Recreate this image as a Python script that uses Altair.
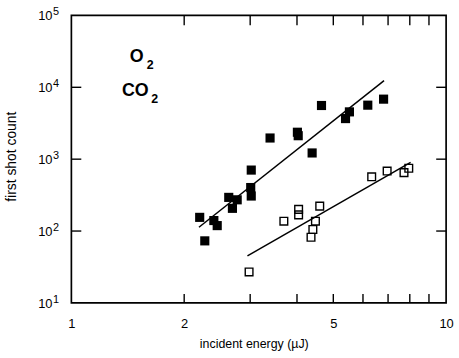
import altair as alt
import pandas as pd

# ---- data ----
filled_x = [2.20, 2.27, 2.40, 2.45, 2.63, 2.69, 2.77, 3.02, 3.01, 3.02, 3.39, 4.01, 4.03, 4.39, 4.65, 5.39, 5.52, 6.18, 6.81]
filled_y = [155, 73, 140, 119, 294, 207, 272, 705, 403, 307, 1970, 2370, 2120, 1220, 5580, 3670, 4550, 5640, 6840]
open_x = [2.98, 3.69, 4.04, 4.04, 4.60, 4.48, 4.41, 4.36, 6.33, 6.96, 7.72, 7.95]
open_y = [27, 137, 200, 168, 222, 137, 105, 82, 568, 683, 650, 748]
fit_filled_x = [2.19, 6.83]
fit_filled_y = [113, 12400]
fit_open_x = [2.95, 8.04]
fit_open_y = [45, 904]

x_label_values = [1, 2, 5, 10]
x_minor_ticks = [2, 3, 4, 5, 6, 7, 8, 9]
y_decades = [10, 100, 1000, 10000, 100000]
y_exponents = ["1", "2", "3", "4", "5"]
y_inner_ticks = [100, 1000, 10000]

W, H = 378, 290
FONT = "Liberation Sans"

xs = alt.Scale(type="log", domain=[1, 10], nice=False)
ys = alt.Scale(type="log", domain=[10, 100000], nice=False)

filled = pd.DataFrame({"x": filled_x, "y": filled_y})
opened = pd.DataFrame({"x": open_x, "y": open_y})
fit1 = pd.DataFrame({"x": fit_filled_x, "y": fit_filled_y})
fit2 = pd.DataFrame({"x": fit_open_x, "y": fit_open_y})
xt = pd.DataFrame({"v": x_minor_ticks})
yt = pd.DataFrame({"v": y_inner_ticks})
ylab = pd.DataFrame({"v": y_decades, "e": y_exponents})

x_axis = alt.Axis(values=x_label_values, format="d", ticks=False, domain=False, grid=False,
                  labelFontSize=13, labelPadding=15, labelFlush=False, labelOverlap=False,
                  labelColor="black", title="incident energy (µJ)", titleFontSize=12.5,
                  titleFontWeight="normal", titleColor="black", titleX=184, titleY=41,
                  titleBaseline="middle", titleAlign="center")
y_axis = alt.Axis(labels=False, ticks=False, domain=False, grid=False,
                  title="first shot count", titleFontSize=14, titleFontWeight="normal",
                  titleColor="black", titleX=-60, titleY=142, titleAngle=270,
                  titleAlign="center", titleBaseline="middle")

base_pts = alt.Chart(filled).mark_point(shape="square", filled=True, size=85, color="black", opacity=1).encode(
    x=alt.X("x:Q", scale=xs, axis=x_axis),
    y=alt.Y("y:Q", scale=ys, axis=y_axis),
)
open_pts = alt.Chart(opened).mark_point(shape="square", filled=False, size=60, color="black",
                                          strokeWidth=1.4, opacity=1).encode(
    x=alt.X("x:Q", scale=xs), y=alt.Y("y:Q", scale=ys))
line1 = alt.Chart(fit1).mark_line(color="black", strokeWidth=1.5).encode(
    x=alt.X("x:Q", scale=xs), y=alt.Y("y:Q", scale=ys))
line2 = alt.Chart(fit2).mark_line(color="black", strokeWidth=1.5).encode(
    x=alt.X("x:Q", scale=xs), y=alt.Y("y:Q", scale=ys))

tick_bottom = alt.Chart(xt).mark_rule(color="black", strokeWidth=1.4).encode(
    x=alt.X("v:Q", scale=xs), y=alt.value(H), y2=alt.value(H - 9))
tick_top = alt.Chart(xt).mark_rule(color="black", strokeWidth=1.4).encode(
    x=alt.X("v:Q", scale=xs), y=alt.value(0), y2=alt.value(10))
tick_left = alt.Chart(yt).mark_rule(color="black", strokeWidth=1.4).encode(
    y=alt.Y("v:Q", scale=ys), x=alt.value(0), x2=alt.value(10))
tick_right = alt.Chart(yt).mark_rule(color="black", strokeWidth=1.4).encode(
    y=alt.Y("v:Q", scale=ys), x=alt.value(W), x2=alt.value(W - 10))

ylab_base = alt.Chart(ylab).mark_text(font=FONT, fontSize=13, align="right", baseline="alphabetic",
                                       dy=4.7, color="black").encode(
    y=alt.Y("v:Q", scale=ys), x=alt.value(-19), text=alt.value("10"))
ylab_exp = alt.Chart(ylab).mark_text(font=FONT, fontSize=11, align="left", baseline="alphabetic",
                                      dy=0, color="black").encode(
    y=alt.Y("v:Q", scale=ys), x=alt.value(-18.5), text="e:N")

ann = []
for txt, px, py, fs in [("O", 59, 47, 18), ("2", 76, 54, 12.5), ("CO", 51, 81, 18), ("2", 80.5, 88, 12.5)]:
    ann.append(alt.Chart(pd.DataFrame({"t": [txt]})).mark_text(
        font=FONT, fontSize=fs, fontWeight="bold", align="left", baseline="alphabetic", color="black"
    ).encode(x=alt.value(px), y=alt.value(py), text="t:N"))

chart = alt.layer(
    base_pts, open_pts, line1, line2, tick_bottom, tick_top, tick_left, tick_right,
    ylab_base, ylab_exp, *ann
).properties(
    width=W, height=H,
).configure_view(stroke="black", strokeWidth=1.7).configure_axis(
    labelFont=FONT, titleFont=FONT
)

chart.save("out.html", embed_options={"renderer": "svg", "actions": False})
